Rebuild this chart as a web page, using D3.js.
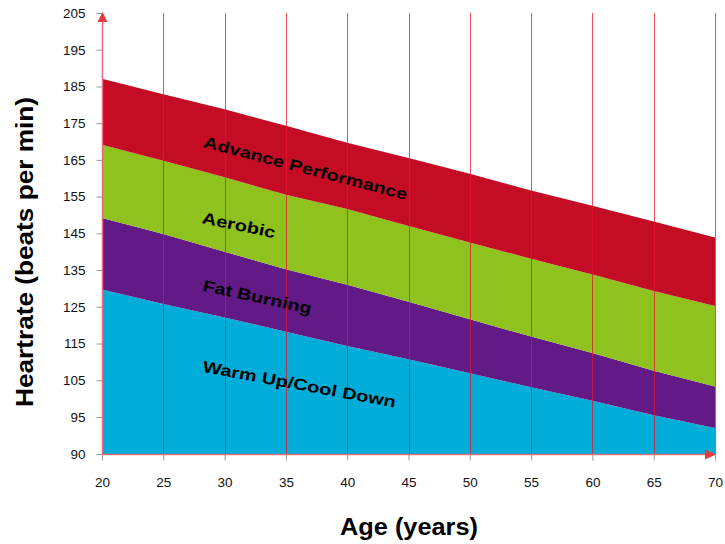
<!DOCTYPE html>
<html>
<head>
<meta charset="utf-8">
<script src="https://cdn.jsdelivr.net/npm/d3@7"></script>
<style>
  html, body { margin: 0; padding: 0; background: #ffffff; }
  svg { display: block; font-family: "Liberation Sans", Arial, Helvetica, sans-serif; }
</style>
</head>
<body>
<svg id="chart" width="725" height="544"></svg>
<script>
// Ages along the x axis
const ages = [20, 25, 30, 35, 40, 45, 50, 55, 60, 65, 70];

// Upper edge of each heart-rate zone (beats per min) at each age
const warmUpTop     = [129.7, 125.8, 122.1, 118.2, 114.3, 110.7, 106.9, 103.1, 99.4, 95.5, 93.5];
const fatBurningTop = [149.2, 144.8, 140.0, 135.2, 131.0, 126.4, 121.6, 116.9, 112.4, 107.6, 103.3];
const aerobicTop    = [169.1, 164.8, 160.3, 155.5, 151.6, 147.0, 142.5, 138.1, 133.8, 129.3, 125.2];
const advanceTop    = [187.1, 182.9, 178.8, 174.3, 169.7, 165.5, 161.2, 156.7, 152.5, 148.2, 143.9];

// Zone names, bottom to top
const zoneNames = ["Warm Up/Cool Down", "Fat Burning", "Aerobic", "Advance Performance"];

// Axis tick values
const yTickValues = [90, 95, 105, 115, 125, 135, 145, 155, 165, 175, 185, 195, 205];
const xTickValues = [20, 25, 30, 35, 40, 45, 50, 55, 60, 65, 70];

const svg = d3.select("#chart");

const x = d3.scaleLinear().domain([20, 70]).range([102, 715]);
// The lowest tick step is half the size of the others but drawn at the same spacing
const y = d3.scaleLinear().domain([90, 95, 205]).range([454, 417, 13]);

const zoneColors = ["#00acd8", "#611a86", "#8fc11f", "#c40d24"];
const tops = [warmUpTop, fatBurningTop, aerobicTop, advanceTop];
const floorLine = ages.map(() => 90);

// Stacked zone bands
const area = d3.area()
  .x(d => x(d.age))
  .y0(d => y(d.lo))
  .y1(d => y(d.hi));

tops.forEach((top, i) => {
  const lower = i === 0 ? floorLine : tops[i - 1];
  const pts = ages.map((a, j) => ({ age: a, lo: lower[j], hi: top[j] }));
  svg.append("path")
    .attr("d", area(pts))
    .attr("fill", zoneColors[i]);
});

// Vertical grid lines
svg.append("g")
  .selectAll("line")
  .data(xTickValues.slice(1))
  .join("line")
  .attr("x1", d => Math.round(x(d)) + 0.5)
  .attr("x2", d => Math.round(x(d)) + 0.5)
  .attr("y1", y(205))
  .attr("y2", y(90))
  .attr("stroke", "#e3142e")
  .attr("stroke-opacity", 0.75)
  .attr("stroke-width", 1);

// Y axis with ticks
const yAxis = d3.axisLeft(y)
  .tickValues(yTickValues)
  .tickFormat(d3.format("d"))
  .tickSize(6)
  .tickPadding(11);
const gy = svg.append("g").attr("transform", "translate(102.5,0)").call(yAxis);
gy.select(".domain").remove();
gy.selectAll(".tick line").attr("stroke", "#9a9a9a");
gy.selectAll(".tick text")
  .attr("fill", "#111")
  .style("font-size", "13.5px")
  .style("font-family", "'Liberation Sans', Arial, sans-serif");

// X axis with ticks
const xAxis = d3.axisBottom(x)
  .tickValues(xTickValues)
  .tickFormat(d3.format("d"))
  .tickSize(6)
  .tickPadding(17);
const gx = svg.append("g").attr("transform", "translate(0,454.5)").call(xAxis);
gx.select(".domain").remove();
gx.selectAll(".tick line").attr("stroke", "#9a9a9a");
gx.selectAll(".tick text")
  .attr("fill", "#111")
  .style("font-size", "13.5px")
  .style("font-family", "'Liberation Sans', Arial, sans-serif");

// Axis lines with arrow heads
svg.append("line")
  .attr("x1", 102.5).attr("x2", 102.5)
  .attr("y1", y(205) + 6).attr("y2", y(90))
  .attr("stroke", "#ec6a7a").attr("stroke-width", 1.5);
svg.append("line")
  .attr("x1", x(20)).attr("x2", x(70) - 6)
  .attr("y1", 454.5).attr("y2", 454.5)
  .attr("stroke", "#dd6f7a").attr("stroke-width", 1.5);
svg.append("path")
  .attr("d", `M${102.5},${y(205) - 1} L${107.5},${y(205) + 9} L${97.5},${y(205) + 9} Z`)
  .attr("fill", "#e23a3e");
svg.append("path")
  .attr("d", `M${x(70) + 1},454.5 L${x(70) - 10},449.5 L${x(70) - 10},459.5 Z`)
  .attr("fill", "#e23a3e");

// Zone labels, slanted along the bands
const zoneLabels = [
  { name: zoneNames[0], age: 28.15, bpm: 107.3, angle: 10.5, len: 196 },
  { name: zoneNames[1], age: 28.15, bpm: 129.4, angle: 12.2, len: 111 },
  { name: zoneNames[2], age: 28.1,  bpm: 147.8, angle: 11.7, len: 74.5 },
  { name: zoneNames[3], age: 28.2,  bpm: 168.5, angle: 14.6, len: 210 }
];
svg.append("g")
  .selectAll("text")
  .data(zoneLabels)
  .join("text")
  .attr("transform", d => `translate(${x(d.age)},${y(d.bpm)}) rotate(${d.angle})`)
  .attr("textLength", d => d.len)
  .attr("lengthAdjust", "spacingAndGlyphs")
  .style("font-size", "16px")
  .style("font-weight", "bold")
  .attr("fill", "#000")
  .text(d => d.name);

// Axis titles
svg.append("text")
  .attr("transform", "translate(33,252) rotate(-90)")
  .attr("text-anchor", "middle")
  .attr("textLength", 310)
  .attr("lengthAdjust", "spacingAndGlyphs")
  .style("font-size", "23px")
  .style("font-weight", "bold")
  .attr("fill", "#000")
  .text("Heartrate (beats per min)");

svg.append("text")
  .attr("x", 409)
  .attr("y", 535)
  .attr("text-anchor", "middle")
  .attr("textLength", 138)
  .attr("lengthAdjust", "spacingAndGlyphs")
  .style("font-size", "23px")
  .style("font-weight", "bold")
  .attr("fill", "#000")
  .text("Age (years)");
</script>
</body>
</html>
